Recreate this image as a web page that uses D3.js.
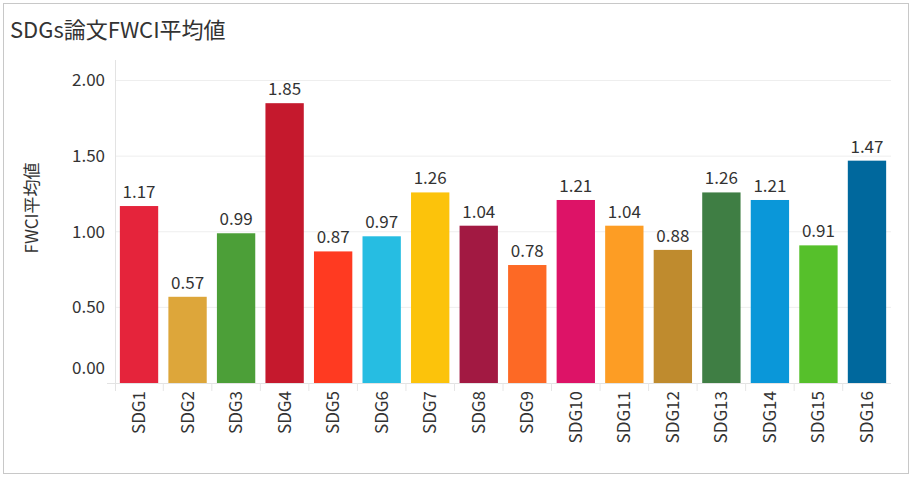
<!DOCTYPE html>
<html>
<head>
<meta charset="utf-8">
<script src="https://cdn.jsdelivr.net/npm/d3@7"></script>
<style>
  body { margin: 0; background: #fff; }
  text { font-family: "Noto Sans CJK JP", "Noto Sans", sans-serif; }
</style>
</head>
<body>
<div id="chart"></div>
<script>
const categories = ['SDG1','SDG2','SDG3','SDG4','SDG5','SDG6','SDG7','SDG8','SDG9','SDG10','SDG11','SDG12','SDG13','SDG14','SDG15','SDG16'];
const values = [1.17, 0.57, 0.99, 1.85, 0.87, 0.97, 1.26, 1.04, 0.78, 1.21, 1.04, 0.88, 1.26, 1.21, 0.91, 1.47];
const colors = ['#E5243B','#DDA63A','#4C9F38','#C5192D','#FF3A21','#26BDE2','#FCC30B','#A21942','#FD6925','#DD1367','#FD9D24','#BF8B2E','#3F7E44','#0A97D9','#56C02B','#00689D'];
const yTicks = [0, 0.5, 1, 1.5, 2];

const W = 912, H = 477;
const svg = d3.select('#chart').append('svg').attr('width', W).attr('height', H);

// outer frame
svg.append('rect').attr('x', 3.5).attr('y', 3.5).attr('width', W - 7).attr('height', H - 7)
  .attr('fill', 'none').attr('stroke', '#c8c8c8');

svg.append('text').attr('x', 10).attr('y', 38).attr('font-size', 22).attr('fill', '#333')
  .text('SDGs論文FWCI平均値');

const plotL = 115, plotR = 891, plotT = 60, plotB = 383;
const x = d3.scaleBand().domain(categories).range([plotL, plotR]).paddingInner(0.21).paddingOuter(0.1);
const y = d3.scaleLinear().domain([0, 2]).range([plotB, 80.5]);

// gridlines
svg.append('g').selectAll('line').data(yTicks.slice(1)).join('line')
  .attr('x1', plotL).attr('x2', plotR).attr('y1', d => y(d)).attr('y2', d => y(d))
  .attr('stroke', '#eeeeee');

// axis lines
svg.append('line').attr('x1', plotL + 0.5).attr('x2', plotL + 0.5).attr('y1', plotT).attr('y2', plotB + 8).attr('stroke', '#e3e3e3');
svg.append('line').attr('x1', plotL - 8).attr('x2', plotR).attr('y1', plotB + 0.5).attr('y2', plotB + 0.5).attr('stroke', '#e3e3e3');

// category separators below axis
const step = x.step();
svg.append('g').selectAll('line').data(categories.slice(1)).join('line')
  .attr('x1', d => x(d) - step * x.paddingInner() / 2).attr('x2', d => x(d) - step * x.paddingInner() / 2)
  .attr('y1', plotB).attr('y2', plotB + 8).attr('stroke', '#e6e6e6');

// y tick labels
svg.append('g').selectAll('text').data(yTicks).join('text')
  .attr('x', 105).attr('y', d => d === 0 ? y(d) - 15 : y(d))
  .attr('dy', '0.35em').attr('text-anchor', 'end').attr('font-size', 17).attr('fill', '#333')
  .text(d => d3.format('.2f')(d));

svg.append('text').attr('transform', 'translate(38,208) rotate(-90)')
  .attr('text-anchor', 'middle').attr('font-size', 17).attr('fill', '#333')
  .text('FWCI平均値');

// bars
svg.append('g').selectAll('rect').data(categories).join('rect')
  .attr('x', d => x(d)).attr('width', x.bandwidth())
  .attr('y', (d, i) => y(values[i])).attr('height', (d, i) => plotB - y(values[i]))
  .attr('fill', (d, i) => colors[i]);

// value labels
svg.append('g').selectAll('text').data(categories).join('text')
  .attr('x', d => x(d) + x.bandwidth() / 2).attr('y', (d, i) => y(values[i]) - 8)
  .attr('text-anchor', 'middle').attr('font-size', 17).attr('fill', '#333')
  .text((d, i) => d3.format('.2f')(values[i]));

// x labels
svg.append('g').selectAll('text').data(categories).join('text')
  .attr('transform', d => `translate(${x(d) + x.bandwidth() / 2},${plotB + 8}) rotate(-90)`)
  .attr('dy', '0.35em').attr('text-anchor', 'end').attr('font-size', 17).attr('fill', '#333')
  .text(d => d);
</script>
</body>
</html>
